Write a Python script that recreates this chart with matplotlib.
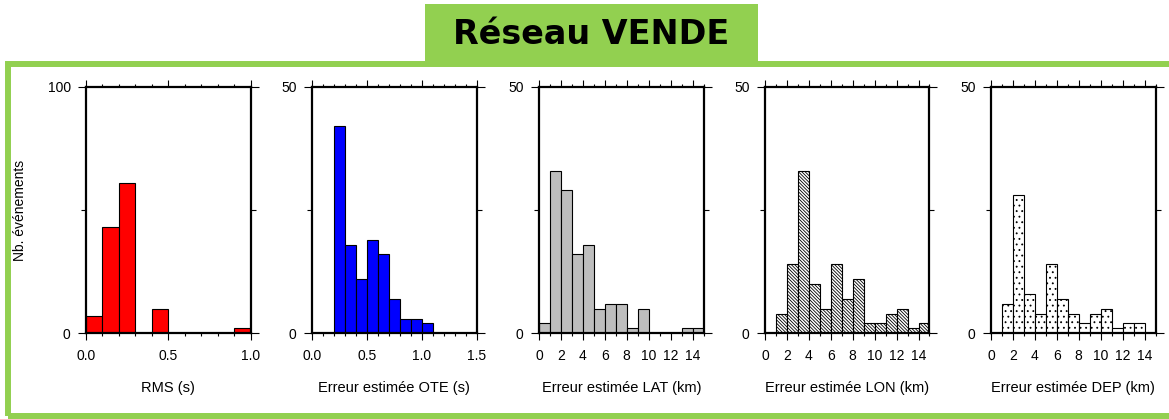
import matplotlib

matplotlib.use("Agg")
import matplotlib.pyplot as plt
import numpy as np
from matplotlib.patches import Rectangle
from matplotlib.ticker import MultipleLocator, FixedLocator

# Event counts per bin for each quality parameter
rms_edges = [0.0, 0.1, 0.2, 0.3, 0.4, 0.5, 0.6, 0.7, 0.8, 0.9, 1.0]
rms_counts = [7, 43, 61, 0, 10, 0, 0, 0, 0, 2]

ote_edges = [0.0, 0.1, 0.2, 0.3, 0.4, 0.5, 0.6, 0.7, 0.8, 0.9, 1.0, 1.1, 1.2, 1.3, 1.4, 1.5]
ote_counts = [0, 0, 42, 18, 11, 19, 16, 7, 3, 3, 2, 0, 0, 0, 0]

km_edges = [0, 1, 2, 3, 4, 5, 6, 7, 8, 9, 10, 11, 12, 13, 14, 15]
lat_counts = [2, 33, 29, 16, 18, 5, 6, 6, 1, 5, 0, 0, 0, 1, 1]
lon_counts = [0, 4, 14, 33, 10, 5, 14, 7, 11, 2, 2, 4, 5, 1, 2]
dep_counts = [0, 6, 28, 8, 4, 14, 7, 4, 2, 4, 5, 1, 2, 2, 0]

xlabels = [
    "RMS (s)",
    "Erreur estimée OTE (s)",
    "Erreur estimée LAT (km)",
    "Erreur estimée LON (km)",
    "Erreur estimée DEP (km)",
]
ymax = [100, 50, 50, 50, 50]
title = "Réseau VENDE"

GREEN = "#92d050"
W, H = 1169, 419

plt.rcParams["font.family"] = ["Liberation Sans", "DejaVu Sans"]
plt.rcParams["hatch.linewidth"] = 0.6

fig = plt.figure(figsize=(W / 100, H / 100), dpi=100)


def px_rect(x0, y0, x1, y1):
    # pixel box (top-left origin) -> figure fraction [left, bottom, width, height]
    return [x0 / W, 1 - y1 / H, (x1 - x0) / W, (y1 - y0) / H]


# green frame and title tab
fig.patches.append(Rectangle((8 / W, 1 - 416 / H), 1175 / W, (416 - 63.7) / H,
                             transform=fig.transFigure, fill=False,
                             edgecolor=GREEN, linewidth=4.3, zorder=0))
fig.patches.append(Rectangle((425 / W, 1 - 63 / H), (758 - 425) / W, (63 - 4) / H,
                             transform=fig.transFigure, facecolor=GREEN,
                             edgecolor="none", zorder=0))
fig.text(591.5 / W, 1 - 35 / H, title, ha="center", va="center",
         fontsize=24, fontweight="bold", family="DejaVu Sans")

panels = [
    (rms_edges, rms_counts, dict(facecolor="#ff0000")),
    (ote_edges, ote_counts, dict(facecolor="#0000ff")),
    (km_edges, lat_counts, dict(facecolor="#bebebe")),
    (km_edges, lon_counts, dict(facecolor="white", hatch="\\" * 10)),
    (km_edges, dep_counts, dict(facecolor="white", hatch="...")),
]
lefts = [86, 312, 539, 765, 991]

for i, (edges, counts, style) in enumerate(panels):
    ax = fig.add_axes(px_rect(lefts[i], 86.7, lefts[i] + 164.5, 333.3))
    edges = np.asarray(edges, dtype=float)
    ax.bar(edges[:-1], counts, width=np.diff(edges), align="edge",
           edgecolor="black", linewidth=0.8, **style)
    ax.set_xlim(edges[0], edges[-1])
    ax.set_ylim(0, ymax[i])

    if i < 2:
        ax.xaxis.set_major_locator(MultipleLocator(0.5))
        ax.xaxis.set_minor_locator(MultipleLocator(0.1))
        ax.xaxis.set_major_formatter(lambda v, p: f"{v:.1f}")
    else:
        ax.xaxis.set_major_locator(FixedLocator([0, 2, 4, 6, 8, 10, 12, 14]))
        ax.xaxis.set_minor_locator(MultipleLocator(1))
    ax.yaxis.set_major_locator(FixedLocator([0, ymax[i]]))
    ax.yaxis.set_minor_locator(FixedLocator([ymax[i] / 2]))

    ax.tick_params(axis="x", which="major", direction="out", length=5, width=0.8,
                   top=True, bottom=True, labelsize=10, pad=6)
    ax.tick_params(axis="x", which="minor", direction="out", length=2.5, width=0.8,
                   top=True, bottom=True)
    ax.tick_params(axis="y", which="major", direction="out", length=6, width=0.8,
                   left=True, right=True, labelsize=10, pad=5)
    ax.tick_params(axis="y", which="minor", direction="out", length=3.3, width=0.8,
                   left=True, right=True)
    for sp in ax.spines.values():
        sp.set_linewidth(1.6)
        sp.set_zorder(5)

    ax.set_xlabel(xlabels[i], fontsize=10.5)
    ax.xaxis.set_label_coords(0.5, -0.222)
    ax.xaxis.label.set_va("center")
    if i == 0:
        ax.set_ylabel("Nb. événements", fontsize=10)
        ax.yaxis.set_label_coords(-0.40, 0.5)
        ax.yaxis.label.set_va("center")

fig.savefig("out.png", dpi=100)
